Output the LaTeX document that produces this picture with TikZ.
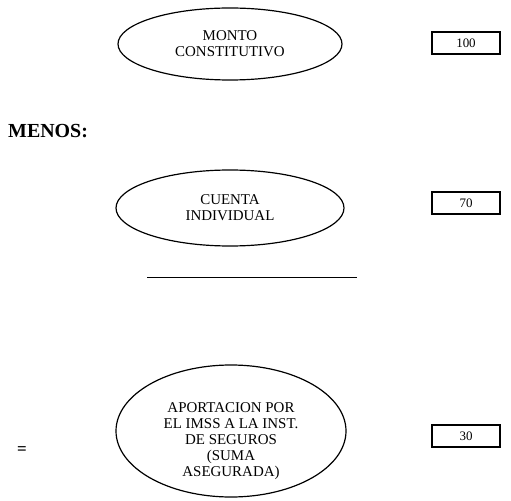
\documentclass[tikz,border=0pt]{standalone}
\usepackage{fontspec}
\setmainfont{Liberation Serif}
\usetikzlibrary{shapes.geometric}
\tikzset{
  oval/.style={draw=black,line width=1.2pt,ellipse,inner sep=0pt,align=center,
    font=\fontsize{15}{16}\selectfont},
  ovaltext/.style={align=center,inner sep=0pt,font=\fontsize{15}{16}\selectfont},
  valbox/.style={draw=black,line width=1.2pt,minimum width=68bp,minimum height=22bp,
    inner sep=0pt,font=\fontsize{13}{15}\selectfont}
}
\begin{document}
\begin{tikzpicture}[x=1bp,y=-1bp]
    \useasboundingbox (0,0) rectangle (511,501);

    \node[oval,minimum width=224bp,minimum height=72bp] (monto) at (230,44) {MONTO\\CONSTITUTIVO};
    \node[valbox] (v100) at (466,43) {100};

    \node[anchor=west,inner sep=0pt,font=\fontsize{20}{22}\selectfont\bfseries] (menos) at (8,131) {MENOS:};

    \node[oval,minimum width=228bp,minimum height=76bp] (cuenta) at (230,208) {CUENTA\\INDIVIDUAL};
    \node[valbox] (v70) at (466,203) {70};

    \coordinate (l1) at (147,277);
    \coordinate (l2) at (357,277);
    \draw[line width=1pt] (l1) -- (l2);

    \node[font=\fontsize{17}{19}\selectfont\bfseries] (igual) at (22,451) {=};
    \node[oval,minimum width=230bp,minimum height=132bp] (aporta) at (231,431) {};
    \node[ovaltext] (aporta-txt) at (231,441)
      {APORTACION POR\\EL IMSS A LA INST.\\DE SEGUROS\\(SUMA\\ASEGURADA)};
    \node[valbox] (v30) at (466,436) {30};
  \end{tikzpicture}
\end{document}
